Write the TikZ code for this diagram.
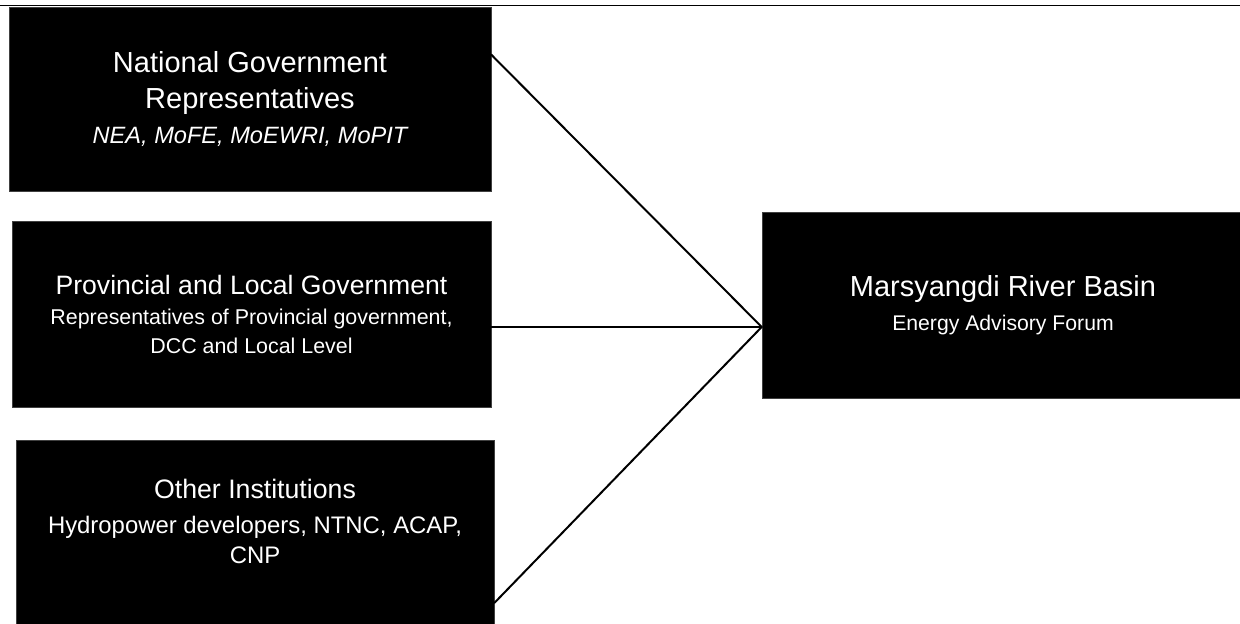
\documentclass[tikz,border=0pt]{standalone}
\usepackage{fontspec}
\setmainfont{Liberation Sans}
\tikzset{
  box/.style={draw=black!75, line width=0.6pt, fill=black, text=white, align=center, inner sep=0pt},
  boxtext/.style={text=white, align=center, inner sep=0pt},
  link/.style={line width=2pt, line cap=round}
}
\begin{document}
\begin{tikzpicture}[x=1pt,y=-1pt]
  %frame
  \useasboundingbox (0,0) rectangle (1240,624);
  \coordinate (HL) at (0,5.5); \coordinate (HR) at (1240,5.5);
  \draw[line width=1.8pt] (HL)--(HR);
  %boxes
  \node[box, minimum width=482, minimum height=184, font=\fontsize{29}{36}\selectfont] (nat) at (250,99)
    {National Government\\Representatives\\[-1pt]
     \fontsize{23.6}{35}\selectfont\itshape NEA, MoFE, MoEWRI, MoPIT};
  \node[box, minimum width=479, minimum height=186, font=\fontsize{26.6}{30}\selectfont] (prov) at (251.5,314)
    {Provincial and Local Government\\
     \fontsize{21.4}{29}\selectfont Representatives of Provincial government,\\[-1pt]
     \fontsize{21.4}{29}\selectfont DCC and Local Level};
  \node[box, minimum width=478, minimum height=200] (inst) at (255,540) {};
  \node[boxtext, font=\fontsize{26.7}{35}\selectfont] (instText) at (255,521)
    {Other Institutions\\
     \fontsize{23.9}{30}\selectfont Hydropower developers, NTNC, ACAP,\\[-5pt]
     \fontsize{23.9}{30}\selectfont CNP};
  \node[box, minimum width=482, minimum height=186, font=\fontsize{29}{32}\selectfont] (forum) at (1003,305)
    {Marsyangdi River Basin\\[2pt]
     \fontsize{21.2}{32}\selectfont Energy Advisory Forum};
  %links
  \coordinate (J) at ([yshift=-22]forum.west);
  \draw[link] ([yshift=-48]nat.north east) -- (J);
  \draw[link] ([yshift=-13]prov.east) -- (J);
  \draw[link] ([yshift=-63]inst.east) -- (J);
\end{tikzpicture}
\end{document}
